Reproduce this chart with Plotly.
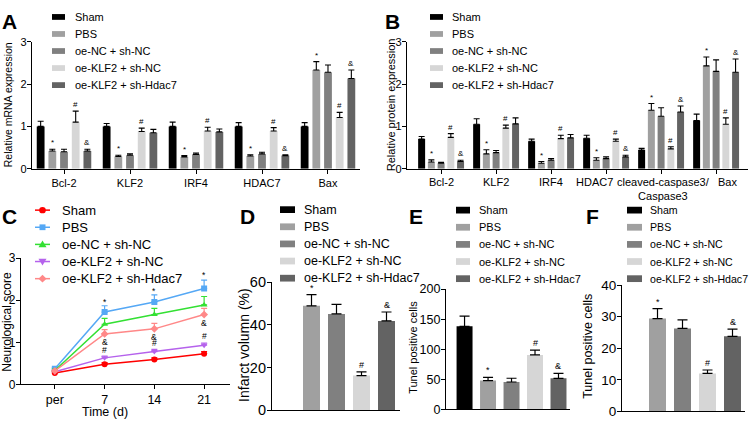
import plotly.graph_objects as go

W, H = 749, 427
FONT = "Liberation Sans, Arial, sans-serif"

# ---------------- data ----------------
groups = ["Sham", "PBS", "oe-NC + sh-NC", "oe-KLF2 + sh-NC", "oe-KLF2 + sh-Hdac7"]
bar_colors = ["#000000", "#a0a0a0", "#808080", "#d6d6d6", "#636363"]
line_colors = ["#ff0000", "#55a8f5", "#33e033", "#b562ec", "#ff8888"]
line_symbols = ["circle", "square", "triangle-up", "triangle-down", "diamond"]

genes_A = ["Bcl-2", "KLF2", "IRF4", "HDAC7", "Bax"]
mrna_mean = [
    [1.00, 1.00, 1.00, 1.00, 1.00],
    [0.42, 0.29, 0.28, 0.30, 2.33],
    [0.40, 0.32, 0.34, 0.35, 2.28],
    [1.10, 0.88, 0.89, 0.89, 1.21],
    [0.42, 0.85, 0.87, 0.31, 2.13],
]
mrna_err = [
    [0.12, 0.07, 0.10, 0.09, 0.09],
    [0.04, 0.03, 0.03, 0.03, 0.20],
    [0.06, 0.03, 0.03, 0.04, 0.17],
    [0.26, 0.08, 0.09, 0.08, 0.12],
    [0.04, 0.08, 0.07, 0.02, 0.20],
]
mrna_sig = [
    ["", "", "", "", ""],
    ["*", "*", "*", "*", "*"],
    ["", "", "", "", ""],
    ["#", "#", "#", "#", "#"],
    ["&", "", "", "&", "&"],
]

genes_B = ["Bcl-2", "KLF2", "IRF4", "HDAC7", "cleaved-caspase3/<br>Caspase3", "Bax"]
prot_mean = [
    [0.70, 1.05, 0.65, 0.72, 0.44, 1.14],
    [0.16, 0.35, 0.13, 0.20, 1.38, 2.43],
    [0.13, 0.38, 0.20, 0.24, 1.24, 2.30],
    [0.74, 0.96, 0.71, 0.65, 0.47, 1.05],
    [0.17, 1.06, 0.73, 0.28, 1.34, 2.28],
]
prot_err = [
    [0.06, 0.13, 0.05, 0.07, 0.04, 0.15],
    [0.05, 0.10, 0.04, 0.06, 0.16, 0.21],
    [0.02, 0.05, 0.04, 0.04, 0.20, 0.27],
    [0.09, 0.07, 0.08, 0.05, 0.05, 0.15],
    [0.03, 0.14, 0.08, 0.04, 0.14, 0.31],
]
prot_sig = [
    ["", "", "", "", "", ""],
    ["*", "*", "*", "*", "*", "*"],
    ["", "", "", "", "", ""],
    ["#", "#", "#", "#", "#", "#"],
    ["&", "", "", "&", "&", "&"],
]

time_labels = ["per", "7", "14", "21"]
neuro_mean = [
    [0.27, 0.48, 0.59, 0.73],
    [0.37, 1.72, 1.96, 2.28],
    [0.33, 1.43, 1.66, 1.89],
    [0.30, 0.63, 0.78, 0.93],
    [0.32, 1.20, 1.32, 1.66],
]
neuro_err = [
    [0.02, 0.04, 0.04, 0.05],
    [0.03, 0.15, 0.17, 0.20],
    [0.03, 0.14, 0.15, 0.20],
    [0.02, 0.04, 0.05, 0.05],
    [0.02, 0.10, 0.13, 0.15],
]

infarct_mean = [0.0, 49.0, 45.2, 16.3, 41.9]
infarct_err = [0.0, 5.2, 4.5, 1.7, 4.2]
infarct_sig = ["", "*", "", "#", "&"]

tunelE_mean = [138.0, 47.8, 45.5, 90.5, 51.6]
tunelE_err = [17.0, 5.3, 6.2, 8.0, 8.4]
tunelE_sig = ["", "*", "", "#", "&"]

tunelF_mean = [0.0, 29.4, 26.3, 12.0, 23.8]
tunelF_err = [0.0, 3.2, 2.7, 1.1, 2.3]
tunelF_sig = ["", "*", "", "#", "&"]


def P(x):
    return x / W


def Q(y):
    return 1 - y / H


fig = go.Figure()
annotations = []
shapes = []

axis_base = dict(
    showline=True, linecolor="black", linewidth=1.2, showgrid=False, zeroline=False,
    ticks="outside", ticklen=4, tickwidth=1.2, tickcolor="black", fixedrange=True,
)


def ann(text, x, y, size, xref="paper", yref="paper", **kw):
    d = dict(text=text, x=x, y=y, xref=xref, yref=yref, showarrow=False,
             xanchor="center", yanchor="middle",
             font=dict(family=FONT, size=size, color="black"))
    d.update(kw)
    annotations.append(d)


def grouped_bars(cats, means, errs, sigs, xa, ya, slot, width, capw, sigsize):
    n = len(groups)
    span = (n - 1) * slot + width
    for j, g in enumerate(groups):
        off = -span / 2 + j * slot
        fig.add_trace(go.Bar(
            x=cats, y=means[j], width=width, offset=off, name=g,
            marker=dict(color=bar_colors[j], line=dict(width=0)),
            error_y=dict(type="data", symmetric=False, array=errs[j],
                         arrayminus=[0] * len(cats), color="black",
                         thickness=1.1, width=capw),
            xaxis=xa, yaxis=ya, showlegend=False,
        ))
        for i in range(len(cats)):
            if sigs[j][i]:
                ann(sigs[j][i], i + off + width / 2, means[j][i] + errs[j][i], sigsize,
                    xref=xa, yref=ya, yanchor="bottom")


def single_bars(means, errs, sigs, xa, ya, width, capw, sigsize):
    for j, g in enumerate(groups):
        fig.add_trace(go.Bar(
            x=[g], y=[means[j]], width=width, name=g,
            marker=dict(color=bar_colors[j], line=dict(width=0)),
            error_y=dict(type="data", symmetric=False, array=[errs[j]],
                         arrayminus=[0], color="black", thickness=1.2,
                         width=capw, visible=errs[j] > 0),
            xaxis=xa, yaxis=ya, showlegend=False,
        ))
        if sigs[j]:
            ann(sigs[j], j, means[j] + errs[j], sigsize, xref=xa, yref=ya,
                yanchor="bottom")


def bar_legend(box_x0, box_x1, text_x, y0, step, box_h, size):
    for j, g in enumerate(groups):
        cy = y0 + j * step
        shapes.append(dict(type="rect", xref="paper", yref="paper",
                           x0=P(box_x0), x1=P(box_x1), y0=Q(cy - box_h / 2), y1=Q(cy + box_h / 2),
                           fillcolor=bar_colors[j], line=dict(width=0)))
        ann(g, P(text_x), Q(cy), size, xanchor="left")


# A
grouped_bars(genes_A, mrna_mean, mrna_err, mrna_sig, "x", "y",
             slot=0.177, width=0.118, capw=3, sigsize=8)
# B
grouped_bars(genes_B, prot_mean, prot_err, prot_sig, "x2", "y2",
             slot=0.177, width=0.127, capw=3, sigsize=8)
b_label_shift = [0, 0, 0, -12, 2, 11]
for i, lab in enumerate(genes_B):
    ann(lab, i, Q(172), 11, xref="x2", yref="paper", yanchor="top",
        xshift=b_label_shift[i])

# C
for j, g in enumerate(groups):
    fig.add_trace(go.Scatter(
        x=time_labels, y=neuro_mean[j], mode="lines+markers", name=g,
        line=dict(color=line_colors[j], width=1.5),
        marker=dict(symbol=line_symbols[j], size=6, color=line_colors[j]),
        error_y=dict(type="data", symmetric=False, array=neuro_err[j],
                     arrayminus=[0] * 4, color=line_colors[j], thickness=1.2, width=3),
        xaxis="x3", yaxis="y3", showlegend=False,
    ))
c_sig = [(1, 1, "*", 4, True), (2, 1, "*", 4, True), (3, 1, "*", 5, True),
         (1, 3, "#", 6, True), (2, 3, "#", 6, True), (3, 3, "#", 7, True),
         (1, 4, "&", -8, False), (2, 4, "&", -8, False), (3, 4, "&", -8, False)]
for ti, si, s, sh, top in c_sig:
    yv = neuro_mean[si][ti] + (neuro_err[si][ti] if top else 0)
    ann(s, ti, yv, 8.5, xref="x3", yref="y3", yshift=sh)

# D, E, F
single_bars(infarct_mean, infarct_err, infarct_sig, "x4", "y4", 0.68, 5, 9)
single_bars(tunelE_mean, tunelE_err, tunelE_sig, "x5", "y5", 0.68, 5, 9)
single_bars(tunelF_mean, tunelF_err, tunelF_sig, "x6", "y6", 0.68, 5, 9)

# legends
bar_legend(52, 65, 73, 9.3, 17.7, 6, 11)
bar_legend(430, 443, 450, 9.3, 17.7, 6, 11)
bar_legend(280, 295, 302, 209.5, 17.8, 7, 12.5)
bar_legend(456, 470, 477, 210, 17.8, 7, 11)
bar_legend(627, 642, 648, 210, 17.8, 7, 10.6)

for j, g in enumerate(groups):
    cy = 210 + j * 17.8
    cx = 42.5
    col = line_colors[j]
    shapes.append(dict(type="line", xref="paper", yref="paper", x0=P(35), x1=P(50),
                       y0=Q(cy), y1=Q(cy), line=dict(color=col, width=1.5)))
    sym = line_symbols[j]
    if sym == "circle":
        shapes.append(dict(type="circle", xref="paper", yref="paper", x0=P(cx - 3.3), x1=P(cx + 3.3),
                           y0=Q(cy + 3.3), y1=Q(cy - 3.3), fillcolor=col, line=dict(width=0)))
    else:
        if sym == "square":
            pts = [(cx - 3, cy - 3), (cx + 3, cy - 3), (cx + 3, cy + 3), (cx - 3, cy + 3)]
        elif sym == "triangle-up":
            pts = [(cx, cy - 4), (cx + 4, cy + 3), (cx - 4, cy + 3)]
        elif sym == "triangle-down":
            pts = [(cx, cy + 4), (cx + 4, cy - 3), (cx - 4, cy - 3)]
        else:
            pts = [(cx, cy - 4), (cx + 4, cy), (cx, cy + 4), (cx - 4, cy)]
        path = "M" + " L".join(f"{P(a):.5f},{Q(b):.5f}" for a, b in pts) + " Z"
        shapes.append(dict(type="path", xref="paper", yref="paper", path=path,
                           fillcolor=col, line=dict(width=0)))
    ann(g, P(60), Q(cy), 13, xanchor="left")

# axis titles & panel letters
ann("Relative mRNA expression", P(8), Q(101), 10.5, textangle=-90)
ann("Relative protein expression", P(391), Q(101), 11, textangle=-90)
ann("Neurological score", P(7), Q(326), 12, textangle=-90)
ann("Time (d)", P(105), Q(420), 12.5)
ann("Infarct volumn (%)", P(244), Q(350), 14, textangle=-90)
ann("Tunel positive cells", P(413), Q(352), 11, textangle=-90)
ann("Tunel positive cells", P(588), Q(352), 12.5, textangle=-90)

for letter, lx, ly in [("A", 0, 0), ("B", 383, 0), ("C", 0, 203), ("D", 238, 203),
                       ("E", 407, 203), ("F", 584, 203)]:
    annotations.append(dict(text=f"<b>{letter}</b>", x=P(lx), y=Q(ly), xref="paper", yref="paper",
                            xanchor="left", yanchor="top", showarrow=False,
                            font=dict(family=FONT, size=21, color="black")))


def xcat(dom, rng, size=11, show=True):
    d = dict(axis_base, domain=[P(dom[0]), P(dom[1])], range=list(rng), type="category",
             tickangle=0, tickfont=dict(family=FONT, size=size, color="black"))
    if show is False:
        d.update(showticklabels=False, ticks="")
    elif show == "ticks":
        d.update(showticklabels=False)
    return d


def yaxis(dom, rng, dtick, size, anchor):
    return dict(axis_base, domain=[Q(dom[0]), Q(dom[1])], range=list(rng), dtick=dtick,
                tickmode="linear", tick0=0, anchor=anchor, ticklabelstandoff=-2,
                tickfont=dict(family=FONT, size=size, color="black"))


fig.update_layout(
    xaxis=dict(xcat((32, 360), (-0.485, 4.485), 11), anchor="y"),
    yaxis=yaxis((167, 35), (0, 3), 1, 11, "x"),
    xaxis2=dict(xcat((407, 748), (-0.62, 5.58), 11, show="ticks"), anchor="y2"),
    yaxis2=yaxis((167, 35), (0, 3), 1, 11, "x2"),
    xaxis3=dict(xcat((21, 230), (-0.68, 3.52), 12.5), anchor="y3"),
    yaxis3=yaxis((391, 260), (0, 3), 1, 12, "x3"),
    xaxis4=dict(xcat((272, 400), (-0.58, 4.54), show=False), anchor="y4"),
    yaxis4=yaxis((418, 285), (0, 60), 20, 14.5, "x4"),
    xaxis5=dict(xcat((446, 570), (-0.79, 4.49), show=False), anchor="y5"),
    yaxis5=yaxis((417, 292), (0, 200), 50, 12.5, "x5"),
    xaxis6=dict(xcat((622, 745), (-0.42, 4.5), show=False), anchor="y6"),
    yaxis6=yaxis((419, 288), (0, 40), 10, 13.5, "x6"),
    barmode="overlay",
    width=W, height=H,
    margin=dict(l=0, r=0, t=0, b=0),
    paper_bgcolor="white", plot_bgcolor="white",
    font=dict(family=FONT, color="black"),
    showlegend=False,
    annotations=annotations,
    shapes=shapes,
)

fig.write_html("out.html", config={"displayModeBar": False},
               post_script="document.body.style.margin='0px';document.body.style.overflow='hidden';")
